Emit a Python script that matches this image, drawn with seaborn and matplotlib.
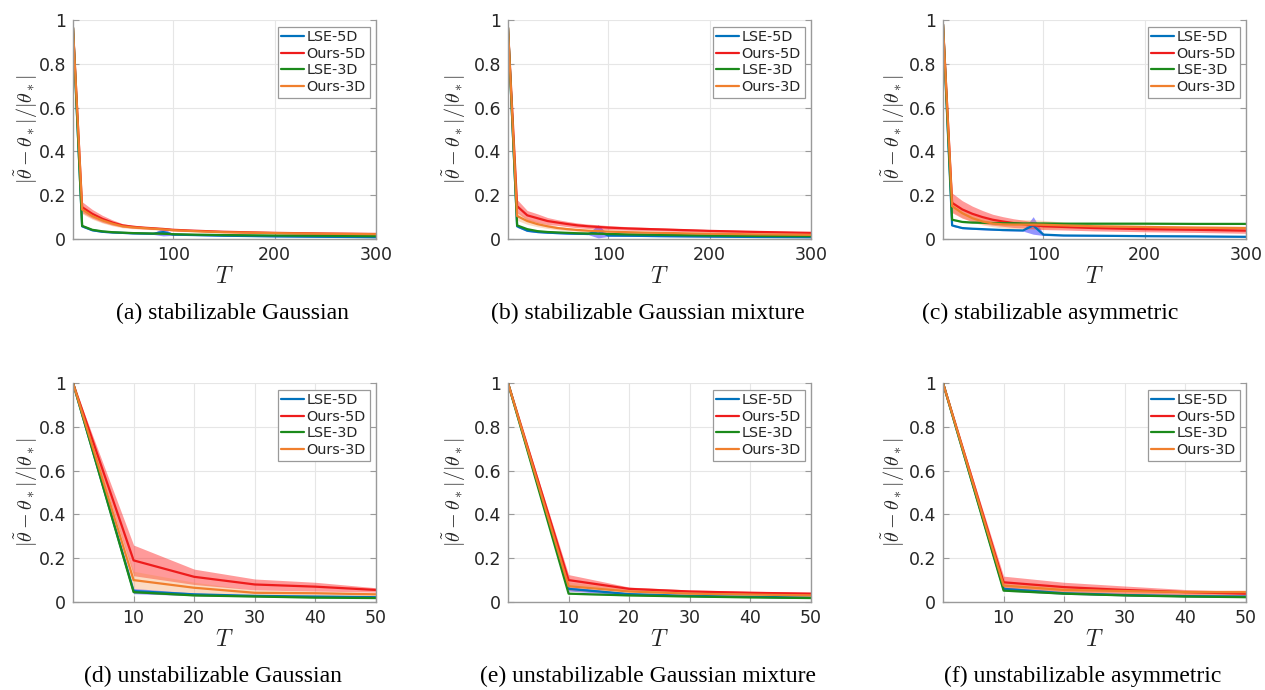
import matplotlib
matplotlib.use("Agg")
import matplotlib.pyplot as plt
import numpy as np
import pandas as pd
import seaborn as sns

# x grids
T_LONG = [1, 10, 20, 30, 40, 50, 60, 70, 80, 90, 100, 120, 150, 200, 250, 300]
T_SHORT = [0, 10, 20, 30, 40, 50]

METHODS = ["LSE-5D", "Ours-5D", "LSE-3D", "Ours-3D"]
COLORS = {"LSE-5D": "#0072BD", "Ours-5D": "#EE1C1C", "LSE-3D": "#1B8A1B", "Ours-3D": "#F07F2D"}
BAND_COLORS = {"LSE-5D": ("#2a2aff", 0.5), "Ours-5D": ("#ff2020", 0.45),
               "LSE-3D": ("#1B8A1B", 0.3), "Ours-3D": ("#F58A3A", 0.3)}

CAPTIONS = ["(a) stabilizable Gaussian", "(b) stabilizable Gaussian mixture",
            "(c) stabilizable asymmetric", "(d) unstabilizable Gaussian",
            "(e) unstabilizable Gaussian mixture", "(f) unstabilizable asymmetric"]

# (a) stabilizable Gaussian
a_lse5 = [0.965, 0.058, 0.040, 0.033, 0.030, 0.028, 0.026, 0.025, 0.024, 0.032, 0.020, 0.018, 0.015, 0.012, 0.010, 0.008]
a_lse5_sd = [0.004, 0.004, 0.003, 0.003, 0.003, 0.003, 0.003, 0.003, 0.003, 0.018, 0.003, 0.002, 0.002, 0.002, 0.002, 0.002]
a_ours5 = [0.965, 0.145, 0.115, 0.092, 0.075, 0.062, 0.056, 0.052, 0.049, 0.046, 0.042, 0.038, 0.033, 0.028, 0.025, 0.023]
a_ours5_sd = [0.004, 0.025, 0.020, 0.016, 0.012, 0.008, 0.007, 0.006, 0.005, 0.005, 0.005, 0.004, 0.004, 0.003, 0.003, 0.003]
a_lse3 = [0.965, 0.060, 0.042, 0.035, 0.031, 0.029, 0.027, 0.026, 0.025, 0.024, 0.022, 0.020, 0.018, 0.016, 0.015, 0.013]
a_lse3_sd = [0.004, 0.003, 0.003, 0.002, 0.002, 0.002, 0.002, 0.002, 0.002, 0.002, 0.002, 0.002, 0.002, 0.002, 0.002, 0.002]
a_ours3 = [0.965, 0.135, 0.105, 0.085, 0.070, 0.058, 0.053, 0.050, 0.047, 0.044, 0.040, 0.036, 0.031, 0.027, 0.024, 0.022]
a_ours3_sd = [0.004, 0.020, 0.015, 0.012, 0.010, 0.007, 0.006, 0.005, 0.005, 0.004, 0.004, 0.004, 0.003, 0.003, 0.003, 0.003]

# (b) stabilizable Gaussian mixture
b_lse5 = [0.965, 0.058, 0.038, 0.032, 0.029, 0.027, 0.025, 0.024, 0.023, 0.035, 0.016, 0.015, 0.013, 0.011, 0.009, 0.008]
b_lse5_sd = [0.004, 0.005, 0.004, 0.003, 0.003, 0.003, 0.003, 0.003, 0.003, 0.030, 0.004, 0.003, 0.002, 0.002, 0.002, 0.002]
b_ours5 = [0.965, 0.150, 0.108, 0.095, 0.082, 0.075, 0.068, 0.062, 0.058, 0.055, 0.052, 0.048, 0.044, 0.037, 0.032, 0.028]
b_ours5_sd = [0.004, 0.030, 0.022, 0.020, 0.016, 0.013, 0.012, 0.011, 0.010, 0.010, 0.009, 0.008, 0.007, 0.006, 0.005, 0.005]
b_lse3 = [0.965, 0.062, 0.045, 0.036, 0.032, 0.030, 0.028, 0.026, 0.025, 0.024, 0.023, 0.021, 0.019, 0.016, 0.014, 0.013]
b_lse3_sd = [0.004, 0.004, 0.003, 0.003, 0.002, 0.002, 0.002, 0.002, 0.002, 0.002, 0.002, 0.002, 0.002, 0.002, 0.002, 0.002]
b_ours3 = [0.965, 0.105, 0.082, 0.068, 0.058, 0.050, 0.045, 0.041, 0.038, 0.036, 0.034, 0.031, 0.028, 0.024, 0.021, 0.019]
b_ours3_sd = [0.004, 0.020, 0.015, 0.012, 0.010, 0.008, 0.007, 0.006, 0.006, 0.005, 0.005, 0.005, 0.004, 0.004, 0.003, 0.003]

# (c) stabilizable asymmetric
c_lse5 = [0.980, 0.062, 0.050, 0.047, 0.045, 0.043, 0.041, 0.040, 0.039, 0.062, 0.020, 0.016, 0.015, 0.013, 0.012, 0.010]
c_lse5_sd = [0.004, 0.004, 0.003, 0.003, 0.003, 0.003, 0.003, 0.003, 0.003, 0.040, 0.004, 0.002, 0.002, 0.002, 0.002, 0.002]
c_ours5 = [0.980, 0.165, 0.135, 0.115, 0.100, 0.088, 0.080, 0.073, 0.068, 0.063, 0.058, 0.055, 0.050, 0.045, 0.042, 0.038]
c_ours5_sd = [0.005, 0.045, 0.040, 0.035, 0.030, 0.025, 0.022, 0.020, 0.018, 0.016, 0.015, 0.014, 0.013, 0.012, 0.012, 0.012]
c_lse3 = [0.980, 0.088, 0.078, 0.075, 0.074, 0.073, 0.072, 0.072, 0.071, 0.071, 0.071, 0.070, 0.070, 0.070, 0.069, 0.069]
c_lse3_sd = [0.004, 0.003, 0.003, 0.003, 0.003, 0.003, 0.003, 0.003, 0.003, 0.003, 0.003, 0.003, 0.003, 0.003, 0.003, 0.003]
c_ours3 = [0.980, 0.150, 0.118, 0.095, 0.080, 0.071, 0.067, 0.066, 0.066, 0.066, 0.065, 0.062, 0.058, 0.055, 0.052, 0.050]
c_ours3_sd = [0.005, 0.025, 0.020, 0.018, 0.016, 0.015, 0.017, 0.020, 0.022, 0.022, 0.020, 0.015, 0.010, 0.008, 0.008, 0.008]

# (d) unstabilizable Gaussian
d_lse5 = [1.0, 0.050, 0.035, 0.028, 0.025, 0.022]
d_lse5_sd = [0.0, 0.012, 0.006, 0.004, 0.003, 0.003]
d_ours5 = [1.0, 0.190, 0.115, 0.080, 0.070, 0.055]
d_ours5_sd = [0.0, 0.070, 0.035, 0.025, 0.020, 0.010]
d_lse3 = [1.0, 0.045, 0.030, 0.025, 0.020, 0.018]
d_lse3_sd = [0.0, 0.003, 0.002, 0.002, 0.002, 0.002]
d_ours3 = [1.0, 0.100, 0.065, 0.042, 0.040, 0.035]
d_ours3_sd = [0.0, 0.040, 0.025, 0.012, 0.010, 0.008]

# (e) unstabilizable Gaussian mixture
e_lse5 = [1.0, 0.060, 0.036, 0.028, 0.024, 0.020]
e_lse5_sd = [0.0, 0.010, 0.005, 0.003, 0.003, 0.003]
e_ours5 = [1.0, 0.100, 0.060, 0.048, 0.042, 0.038]
e_ours5_sd = [0.0, 0.025, 0.008, 0.007, 0.007, 0.007]
e_lse3 = [1.0, 0.038, 0.030, 0.025, 0.021, 0.018]
e_lse3_sd = [0.0, 0.003, 0.002, 0.002, 0.002, 0.002]
e_ours3 = [1.0, 0.072, 0.048, 0.038, 0.034, 0.030]
e_ours3_sd = [0.0, 0.020, 0.010, 0.007, 0.006, 0.006]

# (f) unstabilizable asymmetric
f_lse5 = [1.0, 0.060, 0.040, 0.032, 0.027, 0.025]
f_lse5_sd = [0.0, 0.008, 0.005, 0.004, 0.003, 0.003]
f_ours5 = [1.0, 0.090, 0.068, 0.055, 0.045, 0.038]
f_ours5_sd = [0.0, 0.028, 0.022, 0.018, 0.012, 0.010]
f_lse3 = [1.0, 0.052, 0.038, 0.030, 0.025, 0.022]
f_lse3_sd = [0.0, 0.003, 0.002, 0.002, 0.002, 0.002]
f_ours3 = [1.0, 0.075, 0.055, 0.050, 0.045, 0.045]
f_ours3_sd = [0.0, 0.020, 0.012, 0.010, 0.010, 0.010]

panels = [
    (T_LONG, [a_lse5, a_ours5, a_lse3, a_ours3], [a_lse5_sd, a_ours5_sd, a_lse3_sd, a_ours3_sd]),
    (T_LONG, [b_lse5, b_ours5, b_lse3, b_ours3], [b_lse5_sd, b_ours5_sd, b_lse3_sd, b_ours3_sd]),
    (T_LONG, [c_lse5, c_ours5, c_lse3, c_ours3], [c_lse5_sd, c_ours5_sd, c_lse3_sd, c_ours3_sd]),
    (T_SHORT, [d_lse5, d_ours5, d_lse3, d_ours3], [d_lse5_sd, d_ours5_sd, d_lse3_sd, d_ours3_sd]),
    (T_SHORT, [e_lse5, e_ours5, e_lse3, e_ours3], [e_lse5_sd, e_ours5_sd, e_lse3_sd, e_ours3_sd]),
    (T_SHORT, [f_lse5, f_ours5, f_lse3, f_ours3], [f_lse5_sd, f_ours5_sd, f_lse3_sd, f_ours3_sd]),
]

sns.set_theme(style="whitegrid")
plt.rcParams['font.family'] = ['DejaVu Sans']
plt.rcParams['mathtext.fontset'] = 'cm'

W, H = 1265, 690
fig = plt.figure(figsize=(W / 100, H / 100), dpi=100)

lefts = [73, 508, 943]
tops = [20, 383]
ax_w, ax_h = 303, 219
ylab_x = [-0.108, -0.132, -0.119]
cap_x = [232, 648, 1050, 213, 648, 1083]
cap_y = [313, 313, 313, 676, 676, 676]

for i, (T, means, sds) in enumerate(panels):
    row, col = divmod(i, 3)
    ax = fig.add_axes([lefts[col] / W, 1 - (tops[row] + ax_h) / H, ax_w / W, ax_h / H])

    # shaded bands
    for m, mean, sd in zip(METHODS, means, sds):
        mean = np.asarray(mean)
        sd = np.asarray(sd)
        c, a = BAND_COLORS[m]
        ax.fill_between(T, mean - sd, mean + sd, color=c, alpha=a, linewidth=0)

    df = pd.concat([pd.DataFrame({"T": T, "err": mean, "method": m})
                    for m, mean in zip(METHODS, means)], ignore_index=True)
    sns.lineplot(data=df, x="T", y="err", hue="method", hue_order=METHODS,
                 palette=COLORS, linewidth=1.6, ax=ax, legend=True)

    if row == 0:
        ax.set_xlim(1, 300)
        ax.set_xticks([100, 200, 300])
    else:
        ax.set_xlim(0, 50)
        ax.set_xticks([10, 20, 30, 40, 50])
    ax.set_ylim(0, 1)
    ax.set_yticks([0, 0.2, 0.4, 0.6, 0.8, 1])
    ax.set_yticklabels(["0", "0.2", "0.4", "0.6", "0.8", "1"])

    ax.grid(True, color="#e6e6e6", linewidth=0.8)
    for side in ["left", "right", "bottom"]:
        ax.spines[side].set_visible(True)
        ax.spines[side].set_color("#9a9a9a")
        ax.spines[side].set_linewidth(1.0)
    ax.spines["top"].set_visible(False)
    ax.tick_params(axis="both", direction="in", length=4, width=0.8, color="#9a9a9a",
                   labelsize=12.5, labelcolor="#262626", pad=5)
    ax.tick_params(axis="y", right=True, left=True)
    ax.tick_params(axis="x", bottom=True)

    ax.set_xlabel("$T$", fontsize=17, color="#262626", labelpad=0)
    ax.set_ylabel(r"$|\tilde{\theta}-\theta_*|/|\theta_*|$", fontsize=14.5, color="#262626")
    ax.yaxis.set_label_coords(ylab_x[col], 0.5)

    handles, labels = ax.get_legend_handles_labels()
    leg = ax.legend(handles, labels, loc="upper right", fontsize=10.4, frameon=True,
                    fancybox=False, framealpha=1, edgecolor="#9a9a9a",
                    handlelength=1.6, handletextpad=0.15, borderpad=0.25,
                    labelspacing=0.18, borderaxespad=0.45)
    leg.get_frame().set_linewidth(0.9)
    for t in leg.get_texts():
        t.set_color("#262626")

    fig.text(cap_x[i] / W, 1 - cap_y[i] / H, CAPTIONS[i], ha="center", va="center",
             family="Liberation Serif", fontsize=17, color="black")

fig.savefig("out.png", dpi=100)
